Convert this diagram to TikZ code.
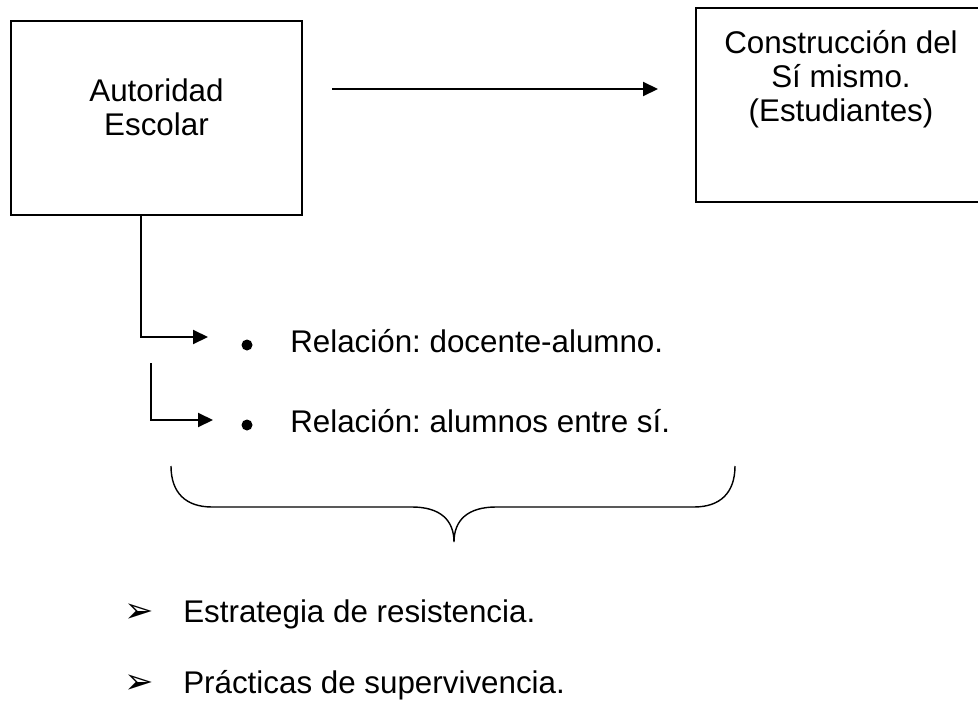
\documentclass[tikz,border=0pt]{standalone}
\usepackage{fontspec}
\setmainfont{Liberation Sans}
\newfontfamily\simbolos{DejaVu Sans}
\usetikzlibrary{arrows.meta}
\frenchspacing

\begin{document}
\begin{tikzpicture}[x=0.25mm, y=-0.25mm,
        flecha/.style={draw=black, line width=1.5pt, -{Triangle[length=3.75mm, width=3.5mm]}},
        llave/.style={draw=black, line width=1pt}]
        \clip (0,0) rectangle (978,702);
        \begin{scope}[every node/.style={rectangle, draw=black, line width=1pt, inner sep=0pt}]
            \node (autoridad) [minimum width=72.75mm, minimum height=48.5mm] at (156.5, 118) {};
            \node (construccion) [minimum width=72.5mm, minimum height=48.5mm] at (841, 105) {};
        \end{scope}
        \begin{scope}[every node/.style={inner sep=0pt, font=\fontsize{22.3}{24.1}\selectfont}]
            \node (autoridadtxt) [anchor=north, align=center] at (156.5, 79) {Autoridad\\Escolar};
            \node (construcciontxt) [anchor=north, align=center] at (841, 30) {Construcción del\\Sí mismo.\\(Estudiantes)};
            \node (rel1) [anchor=base west] at (290, 352) {Relación: docente-alumno.};
            \node (rel2) [anchor=base west] at (290, 432) {Relación: alumnos entre sí.};
            \node (estr) [anchor=base west] at (183, 622) {Estrategia de resistencia.};
            \node (prac) [anchor=base west] at (183, 693) {Prácticas de supervivencia.};
            \node (vin1) [anchor=base west, font=\simbolos\fontsize{25}{26}\selectfont] at (124, 622) {➢};
            \node (vin2) [anchor=base west, font=\simbolos\fontsize{25}{26}\selectfont] at (124, 693) {➢};
        \end{scope}
        \begin{scope}[every node/.style={circle, fill=black, inner sep=0pt, minimum size=2.75mm}]
            \node (punto1) at (247, 345) {};
            \node (punto2) at (247, 425) {};
        \end{scope}
        \coordinate (inicio) at (332, 89);
        \coordinate (fin) at (658, 89);
        \coordinate (punta1) at (208, 337);
        \coordinate (arranque2) at (151, 363);
        \coordinate (punta2) at (213, 420);
        \draw [flecha] (inicio) -- (fin);
        \draw [flecha] ([xshift=32.75mm]autoridad.south west) |- (punta1);
        \draw [flecha] (arranque2) |- (punta2);
        \draw [llave] (171, 466) .. controls (171, 493) and (186, 507) .. (212, 507) -- (412, 507)
            .. controls (440, 507) and (454, 520) .. (454, 542)
            .. controls (454, 520) and (468, 507) .. (496, 507) -- (694, 507)
            .. controls (720, 507) and (735, 493) .. (735, 466);
    \end{tikzpicture}
\end{document}
